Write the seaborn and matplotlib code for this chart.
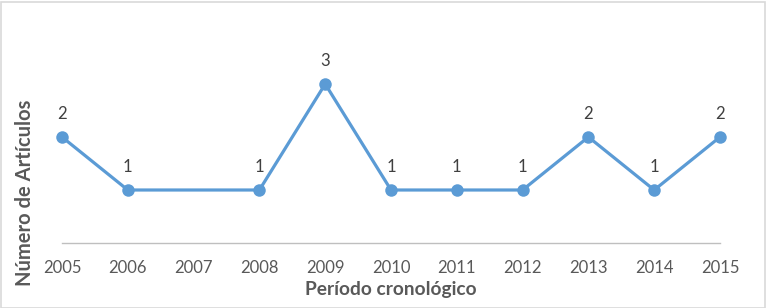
import matplotlib
matplotlib.use("Agg")
import matplotlib.pyplot as plt
import pandas as pd
import seaborn as sns

# Articles per year (2007 has no value)
years = [2005, 2006, 2008, 2009, 2010, 2011, 2012, 2013, 2014, 2015]
articles = [2, 1, 1, 3, 1, 1, 1, 2, 1, 2]
tick_years = list(range(2005, 2016))

df = pd.DataFrame({"year": years, "articles": articles})

sns.set_style("white")
plt.rcParams['font.family'] = ['Lato', 'DejaVu Sans']

fig = plt.figure(figsize=(7.66, 3.08), dpi=100)
ax = fig.add_axes([62 / 766, 65 / 308, 658 / 766, 212 / 308])

blue = "#5B9BD5"
sns.lineplot(data=df, x="year", y="articles", ax=ax, color=blue, linewidth=2.3,
             marker="o", markersize=9, markeredgewidth=0, clip_on=False)

for x, y in zip(years, articles):
    ax.annotate(str(y), (x, y), xytext=(0, 11), textcoords="offset points",
                ha="center", va="bottom", fontsize=12, color="#404040")

ax.set_xlim(2005, 2015)
ax.set_ylim(0, 4)
ax.set_xticks(tick_years)
ax.set_xticklabels([str(t) for t in tick_years])
ax.set_yticks([])
ax.tick_params(axis="x", direction="out", length=6, width=1, color="#BFBFBF",
               labelsize=12, labelcolor="#595959", pad=6)
for side in ["top", "right", "left"]:
    ax.spines[side].set_visible(False)
ax.spines["bottom"].set_color("#BFBFBF")
ax.spines["bottom"].set_linewidth(1)

ax.set_xlabel("Período cronológico", fontsize=13.8, fontweight="bold", color="#595959", labelpad=4)
ax.set_ylabel("Número de Artículos", fontsize=14.5, fontweight="bold", color="#595959")
ax.yaxis.set_label_coords(-27 / 658, 0.236)

fig.patches.append(plt.Rectangle((0.5 / 766, 0.5 / 308), 764 / 766, 306 / 308,
                                 transform=fig.transFigure, fill=False,
                                 edgecolor="#D9D9D9", linewidth=1.2))

fig.savefig("out.png", dpi=100)
